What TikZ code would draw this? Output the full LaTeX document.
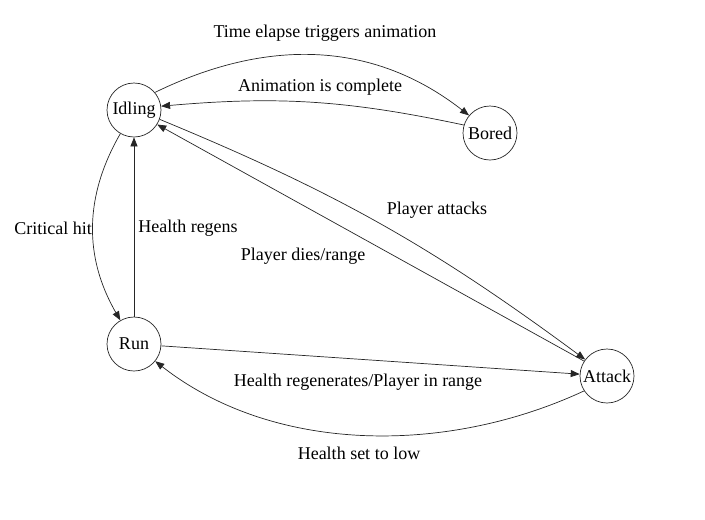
\documentclass[tikz,border=0pt]{standalone}
\usepackage{fontspec}
\setmainfont{Liberation Serif}
\usetikzlibrary{arrows.meta}
\begin{document}
\begin{tikzpicture}[x=1pt,y=1pt,
  state/.style={circle,draw=black!85,line width=0.7pt,minimum size=54pt,inner sep=0pt,font=\fontsize{18}{21}\selectfont},
  lbl/.style={font=\fontsize{18}{21}\selectfont,inner sep=0pt},
  edge/.style={draw=black!85,line width=0.7pt,-{Triangle[length=9pt,width=7pt]}}]
\useasboundingbox (0,0) rectangle (705,-520);
\node[state] (Idl) at (134,-110) {Idling};
\node[state] (Bor) at (490,-133) {Bored};
\node[state] (Run) at (134,-344) {Run};
\node[state] (Att) at (607,-376) {Attack};
% edges
\draw[edge] (Idl.40) to[out=26,in=142] (Bor.140);
\draw[edge] (Bor.163) to[out=168,in=5] (Idl.8);
\draw[edge] (Idl.240) to[out=240,in=120] (Run.120);
\draw[edge] (Run) -- (Idl);
\draw[edge] (Idl.-20) to[bend left=7] (Att.143);
\draw[edge] (Att.147) -- (Idl.-32);
\draw[edge] (Run) -- (Att);
\draw[edge] (Att.213) to[out=205,in=-38,looseness=0.9] (Run.-39);
% labels
\node[lbl] (l1) at (325,-33) {Time elapse triggers animation};
\node[lbl] (l2) at (320,-87) {Animation is complete};
\node[lbl] (l3) at (53,-228) {Critical hit};
\node[lbl] (l4) at (188,-228) {Health regens};
\node[lbl] (l5) at (437,-210) {Player attacks};
\node[lbl] (l6) at (303,-256) {Player dies/range};
\node[lbl] (l7) at (358,-382) {Health regenerates/Player in range};
\node[lbl] (l8) at (359,-453) {Health set to low};
\end{tikzpicture}
\end{document}
